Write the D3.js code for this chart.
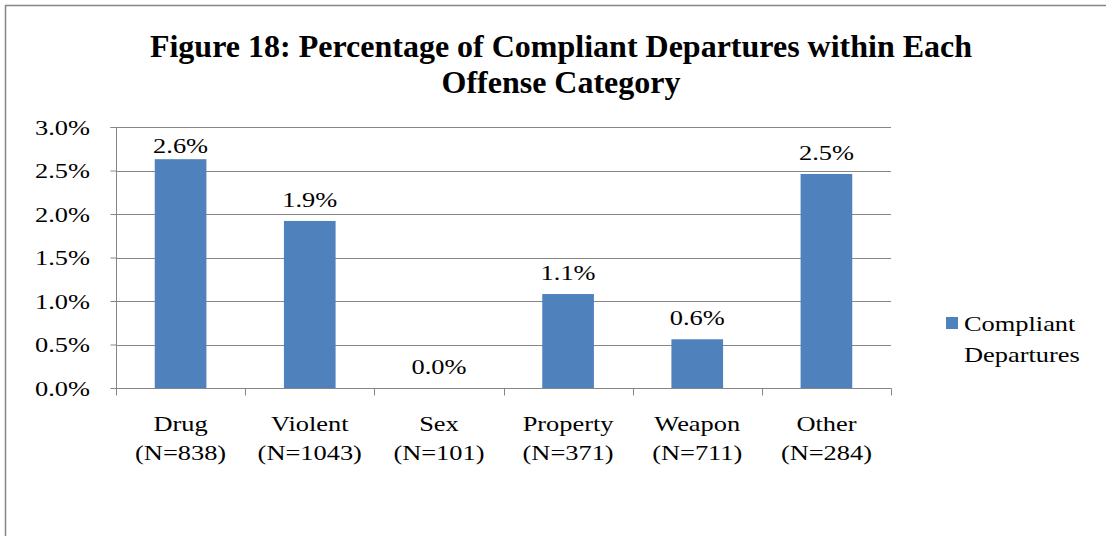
<!DOCTYPE html>
<html><head><meta charset="utf-8">
<script src="https://cdn.jsdelivr.net/npm/d3@7"></script>
<style>body{margin:0;background:#fff}svg{display:block}</style>
</head><body>
<script>
const categories = ["Drug","Violent","Sex","Property","Weapon","Other"];
const nLabels = ["(N=838)","(N=1043)","(N=101)","(N=371)","(N=711)","(N=284)"];
const values = [0.0263,0.0192,0.0,0.0108,0.0056,0.0246];
const valueLabels = ["2.6%","1.9%","0.0%","1.1%","0.6%","2.5%"];
const yTicks = [0,0.005,0.01,0.015,0.02,0.025,0.03];
const seriesName = ["Compliant","Departures"];
const titleLines = ["Figure 18: Percentage of Compliant Departures within Each","Offense Category"];

const W=1106,H=536, font="'Liberation Serif','Times New Roman',serif";
const SX=1.2, FS=22;
const svg=d3.select("body").append("svg").attr("width",W).attr("height",H);
svg.append("rect").attr("x",5.5).attr("y",5.5).attr("width",W+10).attr("height",H+10)
  .attr("fill","none").attr("stroke","#868686").attr("stroke-width",1.5);

function stext(g,x,y,t,anchor){
  return g.append("text").attr("transform",`translate(${x},${y}) scale(${SX},1)`)
    .attr("text-anchor",anchor||"middle").attr("font-family",font).attr("font-size",FS).attr("fill","#000").text(t);
}

const m={l:116,r:891,t:127,b:388};
const x=d3.scaleBand().domain(categories).range([m.l,m.r]).paddingInner(0.6).paddingOuter(0.3);
const xb=d3.scaleBand().domain(categories).range([m.l,m.r]);
const y=d3.scaleLinear().domain([0,0.03]).range([m.b,m.t]);

svg.append("g").selectAll("line").data(yTicks.slice(1)).join("line")
  .attr("x1",m.l).attr("x2",m.r).attr("y1",d=>Math.round(y(d))+0.5).attr("y2",d=>Math.round(y(d))+0.5)
  .attr("stroke","#868686").attr("stroke-width",1);

const ya=svg.append("g").attr("transform",`translate(${m.l+0.5},0)`)
  .call(d3.axisLeft(y).tickValues(yTicks).tickFormat("").tickSize(6));
ya.select(".domain").attr("stroke","#868686").attr("d",`M-6,${m.t+0.5}H0V${m.b+0.5}`);
ya.selectAll(".tick line").attr("stroke","#868686");
const yl=svg.append("g");
yTicks.forEach(t=>stext(yl,90,y(t)+7.5,d3.format(".1%")(t),"end"));

svg.append("g").selectAll("rect").data(categories).join("rect")
  .attr("x",d=>x(d)).attr("width",x.bandwidth())
  .attr("y",(d,i)=>y(values[i])).attr("height",(d,i)=>m.b-y(values[i]))
  .attr("fill","#4f81bd");

const xa=svg.append("g").attr("transform",`translate(0,${m.b+0.5})`);
xa.append("line").attr("x1",m.l).attr("x2",m.r+0.5).attr("stroke","#868686");
xa.selectAll("line.t").data(d3.range(categories.length+1)).join("line").attr("class","t")
  .attr("x1",i=>Math.round(m.l+i*xb.step())+0.5).attr("x2",i=>Math.round(m.l+i*xb.step())+0.5)
  .attr("y1",0).attr("y2",7).attr("stroke","#868686");

const lab=svg.append("g");
categories.forEach((c,i)=>{
  const cx=xb(c)+xb.bandwidth()/2;
  stext(lab,cx,431,c);
  stext(lab,cx,460,nLabels[i]);
  stext(lab,cx,Math.max(y(values[i])-14,m.t+26),valueLabels[i]);
});

svg.append("g").attr("font-family",font).attr("font-size",32).attr("font-weight","bold").attr("text-anchor","middle")
  .selectAll("text").data(titleLines).join("text").attr("x",561).attr("y",(d,i)=>57+i*36).text(d=>d);

svg.append("rect").attr("x",946).attr("y",317).attr("width",12).attr("height",12).attr("fill","#4f81bd");
const lg=svg.append("g");
seriesName.forEach((s,i)=>stext(lg,964,331+i*31,s,"start"));
</script>
</body></html>
